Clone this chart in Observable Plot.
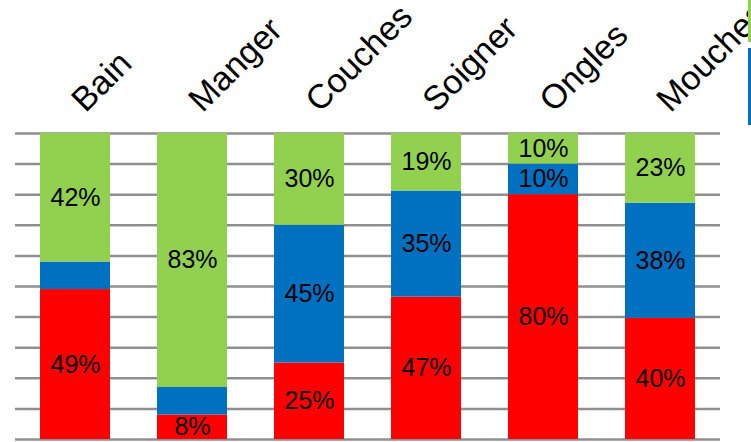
<!DOCTYPE html>
<html>
<head>
<meta charset="utf-8">
<script src="https://cdn.jsdelivr.net/npm/d3@7"></script>
<script src="https://cdn.jsdelivr.net/npm/@observablehq/plot@0.6"></script>
<style>
  html, body { margin: 0; padding: 0; background: #fff; overflow: hidden; }
  #wrap { position: relative; width: 751px; height: 442px; overflow: hidden; }
  .sw { position: absolute; left: 748px; width: 3px; }
</style>
</head>
<body>
<div id="wrap"></div>
<script>
const categories = ["Bain", "Manger", "Couches", "Soigner", "Ongles", "Mouches"];
const seriesNames = ["Série 1", "Série 2", "Série 3"];
const seriesColors = ["#FF0000", "#0070C0", "#92D050"];
const serie1 = [49, 8, 25, 47, 80, 40];
const serie2 = [9, 9, 45, 35, 10, 38];
const serie3 = [42, 83, 30, 19, 10, 23];
const gridTicks = [0, 0.1, 0.2, 0.3, 0.4, 0.5, 0.6, 0.7, 0.8, 0.9, 1];

const allSeries = [serie1, serie2, serie3];
const data = [];
categories.forEach((c, i) => {
  allSeries.forEach((s, k) => {
    data.push({category: c, series: seriesNames[k], value: s[i], order: k});
  });
});

const chart = Plot.plot({
  width: 751,
  height: 442,
  marginLeft: 15,
  marginRight: 31,
  marginTop: 133,
  marginBottom: 3,
  style: {fontFamily: "'Liberation Sans', Arial, sans-serif", background: "#fff", overflow: "visible"},
  x: {domain: categories, paddingInner: 0.4, paddingOuter: 0.2, axis: null},
  y: {domain: [0, 1], axis: null},
  color: {domain: seriesNames, range: seriesColors},
  marks: [
    Plot.ruleY(gridTicks, {stroke: "#8f8f8f", strokeWidth: 2.5}),
    Plot.barY(data, {x: "category", y: "value", fill: "series", order: seriesNames, offset: "normalize"}),
    Plot.text(data, Plot.stackY({
      x: "category", y: "value", z: "series", order: seriesNames, offset: "normalize",
      text: d => (d.value >= 10 || d.order === 0) ? d.value + "%" : "",
      fill: "#000", fontSize: 25
    })),
    Plot.text(categories, {
      x: d => d, frameAnchor: "top", dy: -20, dx: 10,
      rotate: -45, textAnchor: "start", lineAnchor: "bottom",
      fontSize: 34, fill: "#000", text: d => d
    })
  ]
});
document.getElementById("wrap").appendChild(chart);

const wrap = document.getElementById("wrap");
[[seriesColors[2], 0, 42], [seriesColors[1], 48, 77]].forEach(([c, top, h]) => {
  const d = document.createElement("div");
  d.className = "sw";
  d.style.top = top + "px";
  d.style.height = h + "px";
  d.style.background = c;
  wrap.appendChild(d);
});
</script>
</body>
</html>
